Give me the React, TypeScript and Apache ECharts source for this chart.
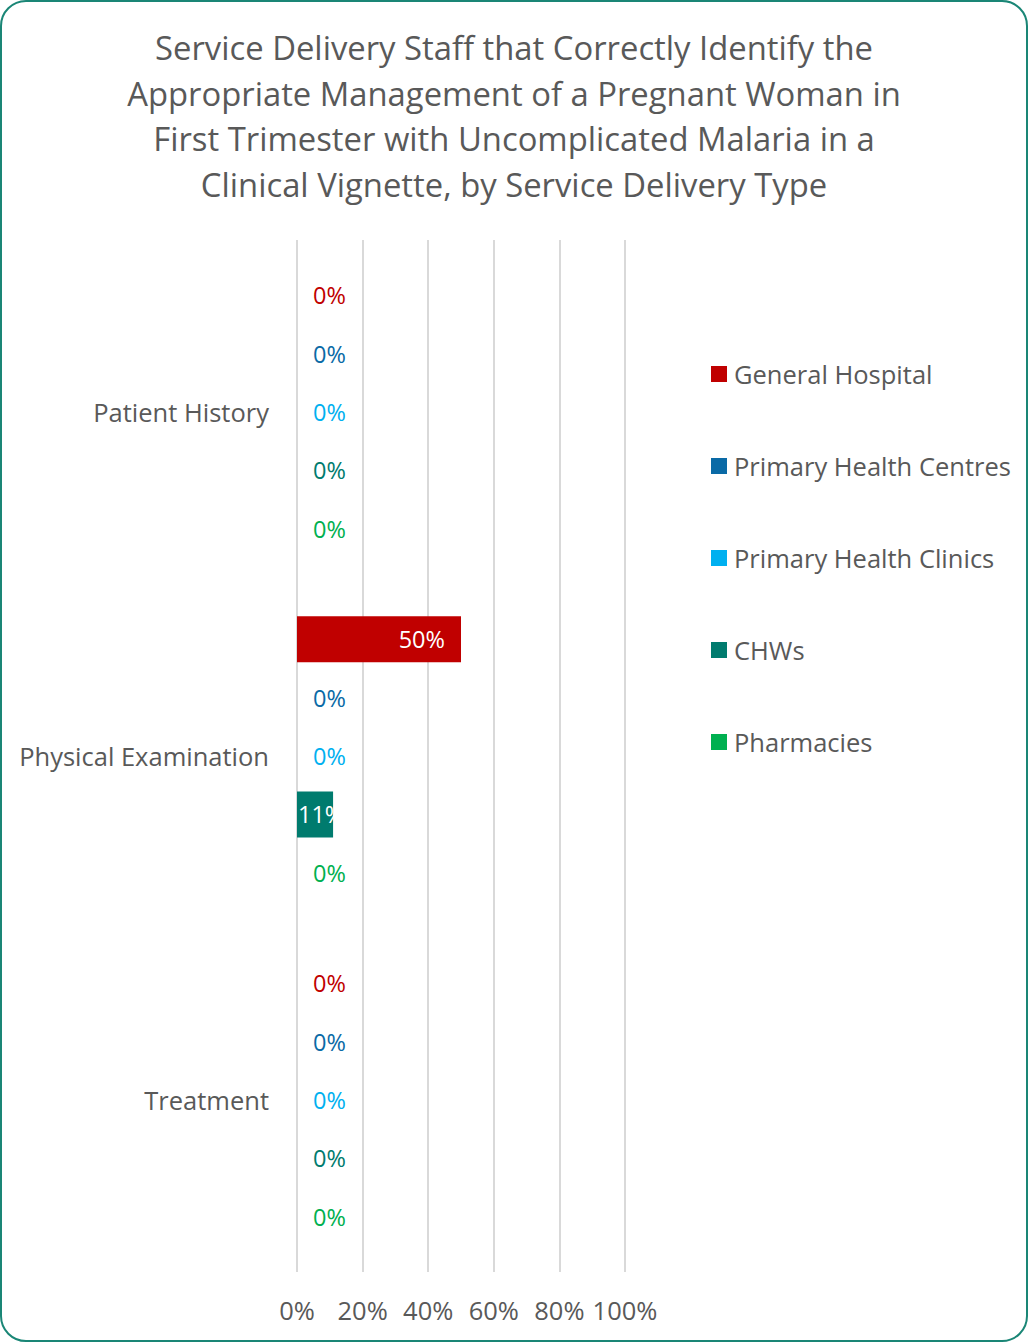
import React, { useEffect, useRef } from "react";
import * as echarts from "echarts";

const categories = ["Patient History", "Physical Examination", "Treatment"];
const seriesNames = ["General Hospital", "Primary Health Centres", "Primary Health Clinics", "CHWs", "Pharmacies"];
const seriesColors = ["#C00000", "#0A6AA6", "#00B0F0", "#007B6E", "#00B050"];
const generalHospital = [0, 50, 0];
const primaryHealthCentres = [0, 0, 0];
const primaryHealthClinics = [0, 0, 0];
const chws = [0, 11, 0];
const pharmacies = [0, 0, 0];
const xTicks = [0, 20, 40, 60, 80, 100];
const title = "Service Delivery Staff that Correctly Identify the\nAppropriate Management of a Pregnant Woman in\nFirst Trimester with Uncomplicated Malaria in a\nClinical Vignette, by Service Delivery Type";

const FONT = "'Open Sans', 'Noto Sans', sans-serif";

export default function App() {
  const ref = useRef<HTMLDivElement>(null);
  useEffect(() => {
    if (!ref.current) return;
    const chart = echarts.init(ref.current, undefined, { renderer: "svg" });
    const allData = [generalHospital, primaryHealthCentres, primaryHealthClinics, chws, pharmacies];
    const series = allData.map((vals, i) => ({
      name: seriesNames[i],
      type: "bar",
      barWidth: 46,
      barGap: "27%",
      itemStyle: { color: seriesColors[i] },
      data: vals.map((v) => ({
        value: v,
        label: v === 0
          ? { show: true, position: "right", distance: 16, color: seriesColors[i] }
          : v < 20
          ? { show: true, position: "insideLeft", distance: 1, color: "#FFFFFF" }
          : { show: true, position: "insideRight", distance: 16, color: "#FFFFFF" },
      })),
      label: {
        show: true,
        fontFamily: FONT,
        fontSize: 23.5,
        formatter: (p: any) => `${p.value}%`,
      },
    }));
    chart.setOption({
      animation: false,
      textStyle: { fontFamily: FONT },
      title: {
        text: title,
        left: "center",
        top: 20,
        textStyle: { fontFamily: FONT, fontSize: 32.8, fontWeight: "normal", color: "#595959", lineHeight: 45.5 },
      },
      legend: {
        orient: "vertical",
        left: 706,
        top: 356,
        itemWidth: 16,
        itemHeight: 16,
        itemGap: 66,
        icon: "rect",
        textStyle: { fontFamily: FONT, fontSize: 25.5, color: "#595959", padding: [0, 0, 0, 2] },
        data: seriesNames,
      },
      grid: { left: 297, right: 403, top: 240, bottom: 70, containLabel: false },
      xAxis: {
        type: "value",
        min: xTicks[0],
        max: xTicks[xTicks.length - 1],
        interval: 20,
        axisLine: { show: false },
        axisTick: { show: false },
        splitLine: { show: true, lineStyle: { color: "#D9D9D9", width: 2 } },
        axisLabel: { formatter: "{value}%", fontFamily: FONT, fontSize: 25.5, color: "#595959", margin: 25 },
      },
      yAxis: {
        type: "category",
        data: categories,
        inverse: true,
        axisLine: { show: false },
        axisTick: { show: false },
        axisLabel: { fontFamily: FONT, fontSize: 25.5, color: "#595959", margin: 28 },
      },
      series,
    });
    return () => chart.dispose();
  }, []);
  return (
    <div
      style={{
        position: "fixed",
        left: 0,
        top: 0,
        width: 1028,
        height: 1342,
        boxSizing: "border-box",
        border: "2px solid #1A8676",
        borderRadius: 26,
        background: "#fff",
        overflow: "hidden",
      }}
    >
      <div ref={ref} style={{ position: "absolute", left: -2, top: -2, width: 1028, height: 1342 }} />
    </div>
  );
}
